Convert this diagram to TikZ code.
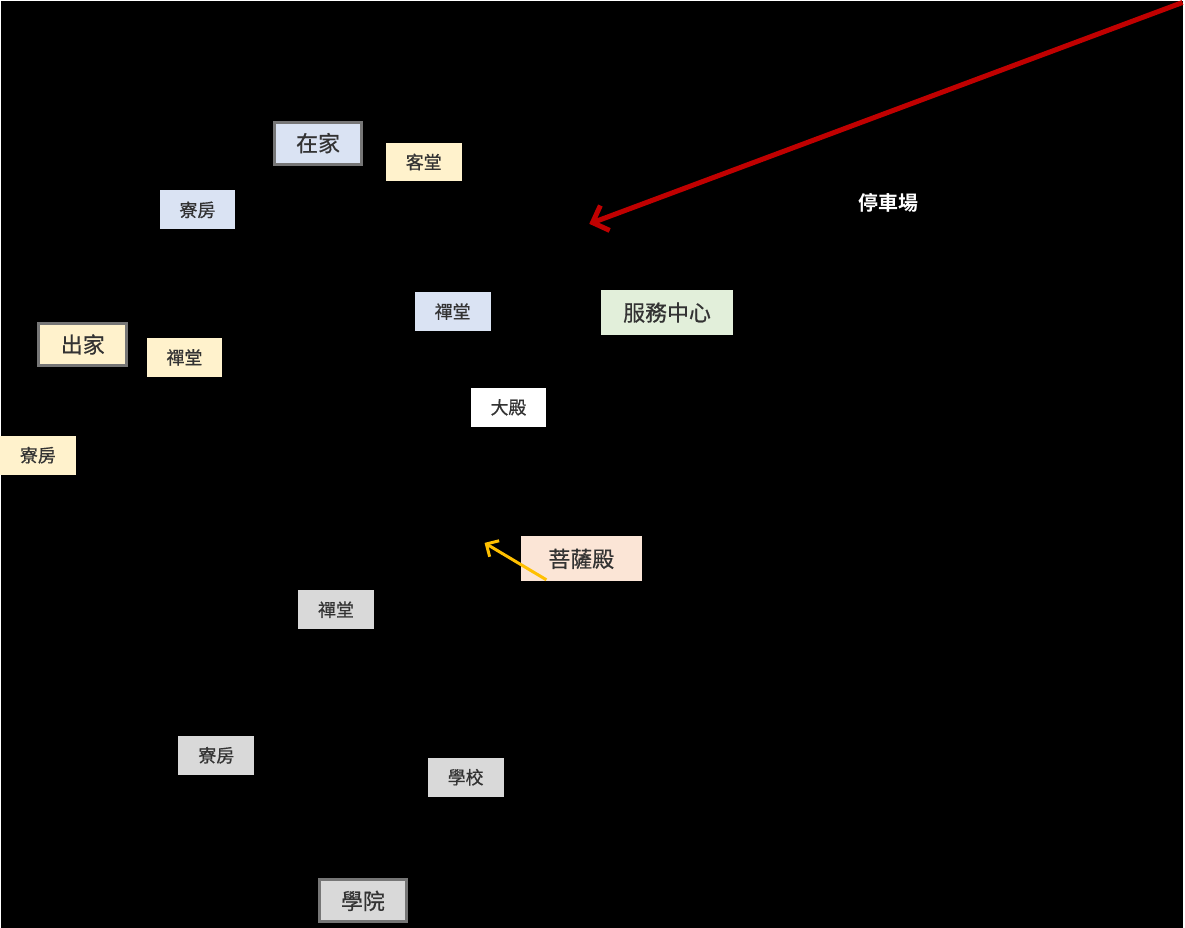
\documentclass[tikz,border=0pt]{standalone}
\usepackage{fontspec}
\newfontfamily\cjk[FakeBold=0.6]{Noto Sans CJK TC}
\newfontfamily\cjkbold{Noto Sans CJK TC Bold}
\usetikzlibrary{arrows.meta}
\definecolor{homeblue}{HTML}{DAE3F3}
\definecolor{monkyellow}{HTML}{FFF2CC}
\definecolor{servgreen}{HTML}{E2EFDA}
\definecolor{hallpeach}{HTML}{FBE5D6}
\definecolor{schoolgray}{HTML}{D9D9D9}
\definecolor{framegray}{HTML}{767676}
\definecolor{labelgray}{HTML}{333333}
\definecolor{parkred}{HTML}{C00000}
\definecolor{pathgold}{HTML}{FFC000}

\begin{document}
\begin{tikzpicture}[x=0.75pt, y=-0.75pt,
  font=\cjk\fontsize{13.5}{15}\selectfont,
  room/.style={inner sep=0pt, minimum width=57pt, minimum height=29.25pt, text=labelgray},
  hub/.style={draw=framegray, line width=2.25pt, inner sep=0pt, minimum width=66pt, minimum height=31.5pt,
    text=labelgray, font=\cjk\fontsize{16.5}{18}\selectfont},
  bigroom/.style={inner sep=0pt, minimum height=33.75pt, text=labelgray, font=\cjk\fontsize{16.5}{18}\selectfont}]
  \fill[black] (0,0) rectangle (1185,930);

  % lay group
  \node[hub, fill=homeblue] (home) at (318,143) {在家};
  \node[room, fill=monkyellow] (guest) at (424,162) {客堂};
  \node[room, fill=homeblue] (laydorm) at (197,210) {寮房};
  \node[room, fill=homeblue] (layzen) at (453,312) {禪堂};

  % monastic group
  \node[hub, fill=monkyellow] (monk) at (82,345) {出家};
  \node[room, fill=monkyellow] (monkzen) at (184,358) {禪堂};
  \node[room, fill=monkyellow] (monkdorm) at (37,456) {寮房};

  % halls
  \node[bigroom, fill=servgreen, minimum width=99pt] (service) at (668,313) {服務中心};
  \node[room, fill=white] (mainhall) at (509,408) {大殿};
  \node[bigroom, fill=hallpeach, minimum width=90.75pt] (bodhi) at (582,560) {菩薩殿};

  % academy group
  \node[room, fill=schoolgray] (schzen) at (336,611) {禪堂};
  \node[room, fill=schoolgray] (schdorm) at (216,757) {寮房};
  \node[room, fill=schoolgray] (school) at (466,779) {學校};
  \node[hub, fill=schoolgray] (academy) at (363,903) {學院};

  % parking
  \node[text=white, font=\cjkbold\fontsize{15}{17}\selectfont] (parking) at (890,203) {停車場};
  \coordinate (parkin) at (1185,2);
  \coordinate (parkend) at (590,224);
  \draw[parkred, line width=3.75pt, -{Straight Barb[length=10pt, width=20pt]}] (parkin) -- (parkend);

  \coordinate (bodhiout) at (547,581);
  \coordinate (bodhiend) at (485,544);
  \draw[pathgold, line width=2.25pt, -{Straight Barb[length=7pt, width=14pt]}] (bodhiout) -- (bodhiend);
\end{tikzpicture}
\end{document}
